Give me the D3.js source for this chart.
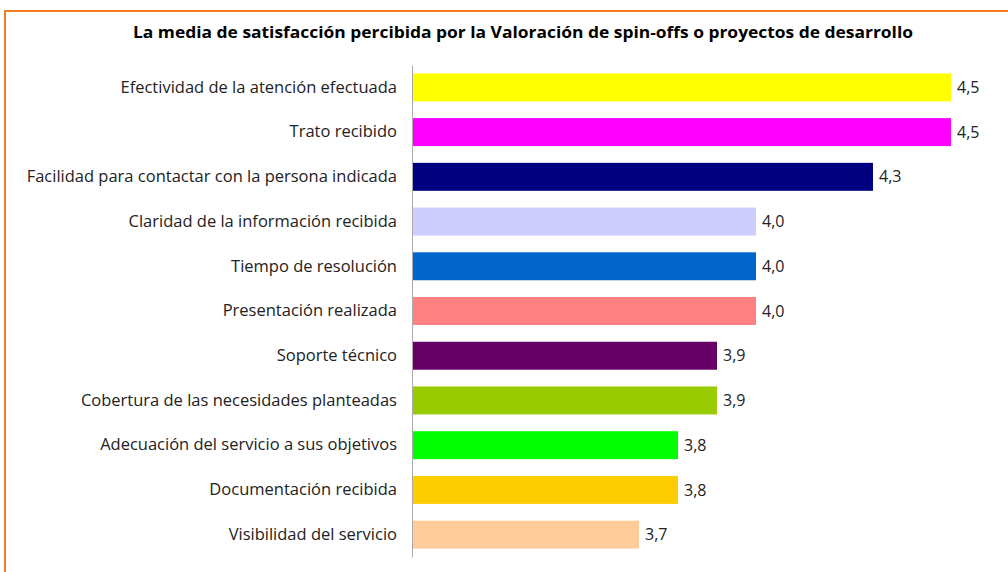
<!DOCTYPE html>
<html><head><meta charset="utf-8">
<script src="https://cdn.jsdelivr.net/npm/d3@7"></script>
<style>body{margin:0;background:#fff}svg{display:block}</style>
</head><body>
<script>
const categories = ["Efectividad de la atención efectuada","Trato recibido","Facilidad para contactar con la persona indicada","Claridad de la información recibida","Tiempo de resolución","Presentación realizada","Soporte técnico","Cobertura de las necesidades planteadas","Adecuación del servicio a sus objetivos","Documentación recibida","Visibilidad del servicio"];
const values = [4.5,4.5,4.3,4.0,4.0,4.0,3.9,3.9,3.8,3.8,3.7];
const colors = ["#FFFF00","#FF00FF","#000080","#CCCCFF","#0066CC","#FF8080","#660066","#99CC00","#00FF00","#FFCC00","#FFCC99"];
const title = "La media de satisfacción percibida por la Valoración de spin-offs o proyectos de desarrollo";
const xDomain = [3.118, 4.5];

const W = 1008, H = 572;
const svg = d3.select("body").append("svg").attr("width", W).attr("height", H);
svg.append("rect").attr("x",5).attr("y",11).attr("width",W+20).attr("height",H+20)
  .attr("fill","#fff").attr("stroke","#F47B20").attr("stroke-width",2);

const font = "'Open Sans', sans-serif";
const t = svg.append("text").attr("x",523).attr("y",38).attr("text-anchor","middle")
  .attr("font-family",font).attr("font-weight","bold").attr("font-size",15.5).attr("fill","#000")
  .text(title);
const tw = t.node().getComputedTextLength();
if (Math.abs(tw - 780) > 4) t.attr("textLength", 780).attr("lengthAdjust","spacingAndGlyphs");

const x0 = 412;
const x = d3.scaleLinear().domain(xDomain).range([x0, 951]);
const y = d3.scaleBand().domain(categories).range([65, 557]).paddingInner(0.375).paddingOuter(0.1875);

svg.selectAll("rect.bar").data(values).join("rect").attr("class","bar")
  .attr("x", x0).attr("y", (d,i)=>y(categories[i]))
  .attr("width", d=>x(d)-x0).attr("height", y.bandwidth())
  .attr("fill", (d,i)=>colors[i]);

svg.selectAll("text.val").data(values).join("text").attr("class","val")
  .attr("x", d=>x(d)+6).attr("y",(d,i)=>y(categories[i])+y.bandwidth()/2)
  .attr("dy","0.35em").attr("font-family",font).attr("font-size",16).attr("fill","#222")
  .text(d=>d.toFixed(1).replace(".",","));

const yAxis = d3.axisLeft(y).tickSize(0).tickPadding(15);
const g = svg.append("g").attr("transform",`translate(${x0},0)`).call(yAxis);
g.select(".domain").attr("stroke","#aaa").attr("stroke-width",1);
g.selectAll("text").attr("font-family",font).attr("font-size",16.5).attr("fill","#222");
</script>
</body></html>
